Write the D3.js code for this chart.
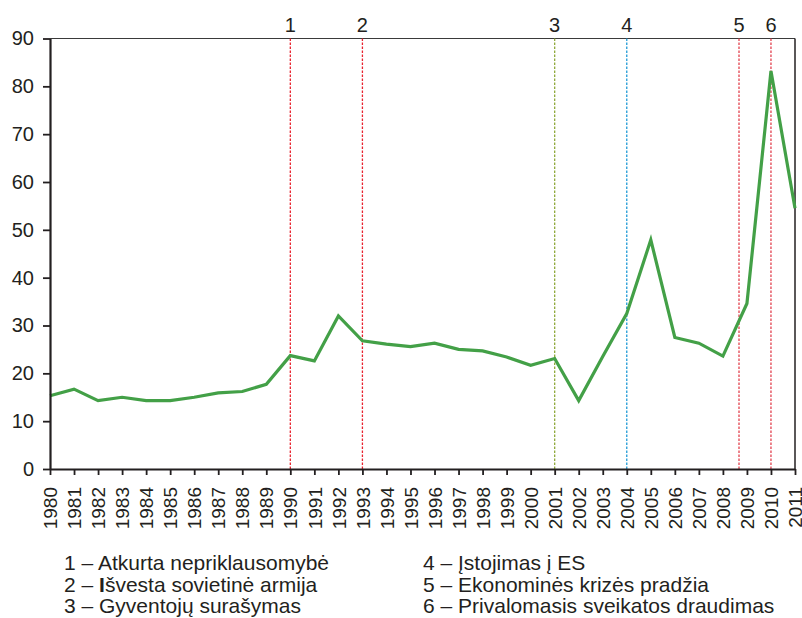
<!DOCTYPE html>
<html>
<head>
<meta charset="utf-8">
<script src="https://cdn.jsdelivr.net/npm/d3@7"></script>
<style>
  body { margin: 0; background: #fff; }
  text { font-family: "Liberation Sans", Arial, sans-serif; fill: #231f20; }
</style>
</head>
<body>
<div id="graphic"></div>
<script>
// years on the x axis
var years = d3.range(1980, 2012);
// series values
var values = [15.3, 16.7, 14.3, 15.0, 14.3, 14.3, 15.0, 15.9, 16.2, 17.7,
              23.7, 22.6, 32.0, 26.8, 26.1, 25.6, 26.3, 25.0, 24.7, 23.4,
              21.7, 23.1, 14.3, 23.5, 32.5, 47.9, 27.5, 26.3, 23.6, 34.6,
              83.2, 54.5];
var yTicks = [0, 10, 20, 30, 40, 50, 60, 70, 80, 90];

// event markers
var eventIds = ["1", "2", "3", "4", "5", "6"];
var eventYears = [1990, 1993, 2001, 2004, 2008.67, 2010];
var eventColors = ["#e8232f", "#e8232f", "#8fa83a", "#1f9ad6", "#e2424f", "#e2424f"];
var legendTexts = ["Atkurta nepriklausomybė", "Išvesta sovietinė armija", "Gyventojų surašymas",
                   "Įstojimas į ES", "Ekonominės krizės pradžia", "Privalomasis sveikatos draudimas"];

var W = 802, H = 618;
var margin = {top: 38.5, right: 7, bottom: 149, left: 50};
var width = W - margin.left - margin.right,
    height = H - margin.top - margin.bottom;

var svg = d3.select("#graphic").append("svg")
    .attr("width", W)
    .attr("height", H);

var g = svg.append("g")
    .attr("transform", "translate(" + margin.left + "," + margin.top + ")");

var x = d3.scaleLinear().domain([1980, 2011]).range([0, width]);
var y = d3.scaleLinear().domain([0, 90]).range([height, 0]);

// frame top + right
g.append("line").attr("x1", 0).attr("x2", width).attr("y1", 0).attr("y2", 0)
    .attr("stroke", "#3a3a3a").attr("stroke-width", 1.2);
g.append("line").attr("x1", width).attr("x2", width).attr("y1", 0).attr("y2", height)
    .attr("stroke", "#231f20").attr("stroke-width", 1.5);

// event lines
eventYears.forEach(function (yr, i) {
  g.append("line")
      .attr("x1", x(yr)).attr("x2", x(yr))
      .attr("y1", 0).attr("y2", height)
      .attr("stroke", eventColors[i])
      .attr("stroke-width", 1.3)
      .attr("stroke-dasharray", "2.5,1.5");
  g.append("text")
      .attr("x", x(yr))
      .attr("y", -7)
      .attr("text-anchor", "middle")
      .style("font-size", "20px")
      .text(eventIds[i]);
});

// the line
var line = d3.line()
    .x(function (d, i) { return x(years[i]); })
    .y(function (d) { return y(d); });

g.append("path")
    .datum(values)
    .attr("fill", "none")
    .attr("stroke", "#43a047")
    .attr("stroke-width", 3.2)
    .attr("stroke-linejoin", "miter")
    .attr("d", line);

// y axis
var gy = g.append("g")
    .call(d3.axisLeft(y).tickValues(yTicks).tickSize(7).tickPadding(9).tickSizeOuter(0));
gy.select(".domain").attr("stroke", "#231f20").attr("stroke-width", 2.2);
gy.selectAll(".tick line").attr("stroke", "#231f20").attr("stroke-width", 1.8);
gy.selectAll(".tick text").style("font-size", "20px").attr("fill", "#231f20")
    .style("font-family", "Liberation Sans, Arial, sans-serif");

// x axis
var gx = g.append("g")
    .attr("transform", "translate(0," + height + ")")
    .call(d3.axisBottom(x).tickValues(years).tickFormat(d3.format("d")).tickSize(6).tickSizeOuter(0));
gx.select(".domain").attr("stroke", "#231f20").attr("stroke-width", 2.2);
gx.selectAll(".tick line").attr("stroke", "#231f20").attr("stroke-width", 1.8);
gx.selectAll(".tick text")
    .style("font-size", "19px")
    .style("font-family", "Liberation Sans, Arial, sans-serif")
    .attr("fill", "#231f20")
    .attr("text-anchor", "end")
    .attr("transform", "rotate(-90)")
    .attr("x", -18)
    .attr("y", 0)
    .attr("dy", "0.35em");

// legend
var legend = svg.append("g");
legendTexts.forEach(function (t, i) {
  var col = Math.floor(i / 3), row = i % 3;
  var txt = legend.append("text")
      .attr("x", col === 0 ? 64 : 423)
      .attr("y", 570 + row * 21.5)
      .style("font-size", "21px");
  txt.append("tspan").text(eventIds[i] + " – ");
  if (i === 1) {
    txt.append("tspan").style("font-weight", "bold").text(t.charAt(0));
    txt.append("tspan").text(t.slice(1));
  } else {
    txt.append("tspan").text(t);
  }
});
</script>
</body>
</html>
